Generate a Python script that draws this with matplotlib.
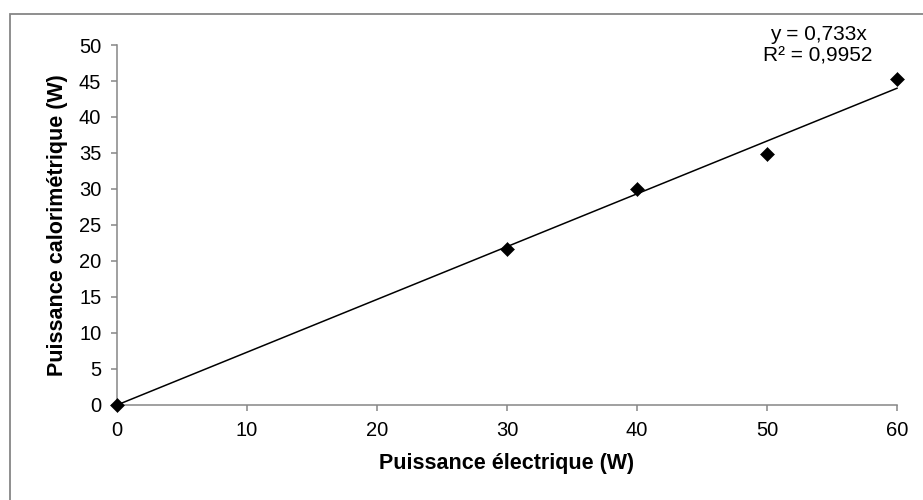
import matplotlib
matplotlib.use("Agg")
import matplotlib.pyplot as plt
from matplotlib.patches import Rectangle
import numpy as np

plt.rcParams['font.family'] = ['Liberation Sans', 'DejaVu Sans']

# Data
puissance_electrique = [0, 30, 40, 50, 60]
puissance_calorimetrique = [0, 21.6, 30.0, 34.8, 45.3]
x_ticks = [0, 10, 20, 30, 40, 50, 60]
y_ticks = [0, 5, 10, 15, 20, 25, 30, 35, 40, 45, 50]
x_label = "Puissance électrique (W)"
y_label = "Puissance calorimétrique (W)"
trend_text = "y = 0,733x\nR² = 0,9952"

W, H = 923, 500
fig = plt.figure(figsize=(W / 100, H / 100), dpi=100)
fig.patch.set_facecolor('white')

# Outer chart border (extends past right/bottom edges)
border = Rectangle((10 / W, -0.05), 1.2, 486 / H + 0.05, transform=fig.transFigure,
                   fill=False, edgecolor='#868686', linewidth=1.3, zorder=0)
fig.patches.append(border)

ax = fig.add_axes([117 / W, 95 / H, 780 / W, 360 / H])

x = np.array(puissance_electrique, dtype=float)
y = np.array(puissance_calorimetrique, dtype=float)
slope = np.sum(x * y) / np.sum(x * x)  # linear fit through origin
xt = np.array([x.min(), x.max()])
ax.plot(xt, slope * xt, color='black', linewidth=1.1, zorder=2, clip_on=False)
ax.plot(x, y, linestyle='none', marker='D', markersize=7, color='black',
        markeredgewidth=0.4, zorder=3, clip_on=False)

ax.set_xlim(0, 60)
ax.set_ylim(0, 50)
ax.set_xticks(x_ticks)
ax.set_yticks(y_ticks)
ax.set_xticklabels([str(v) for v in x_ticks])
ax.set_yticklabels([str(v) for v in y_ticks])

for s in ['top', 'right']:
    ax.spines[s].set_visible(False)
for s in ['left', 'bottom']:
    ax.spines[s].set_color('#868686')
    ax.spines[s].set_linewidth(1.1)
ax.tick_params(axis='both', direction='out', length=4.3, width=1.1,
               color='#868686', labelsize=14.5, labelcolor='black', pad=7)

fig.text(507 / W, (H - 464) / H, x_label, ha='center', va='center',
         fontsize=15.5, fontweight='bold')
fig.text(57 / W, (H - 225) / H, y_label, ha='center', va='center',
         rotation=90, fontsize=15.5, fontweight='bold')

fig.text(818 / W, (H - 45) / H, trend_text, ha='center', va='center',
         fontsize=15, linespacing=1.2)

fig.savefig('out.png', dpi=100)
